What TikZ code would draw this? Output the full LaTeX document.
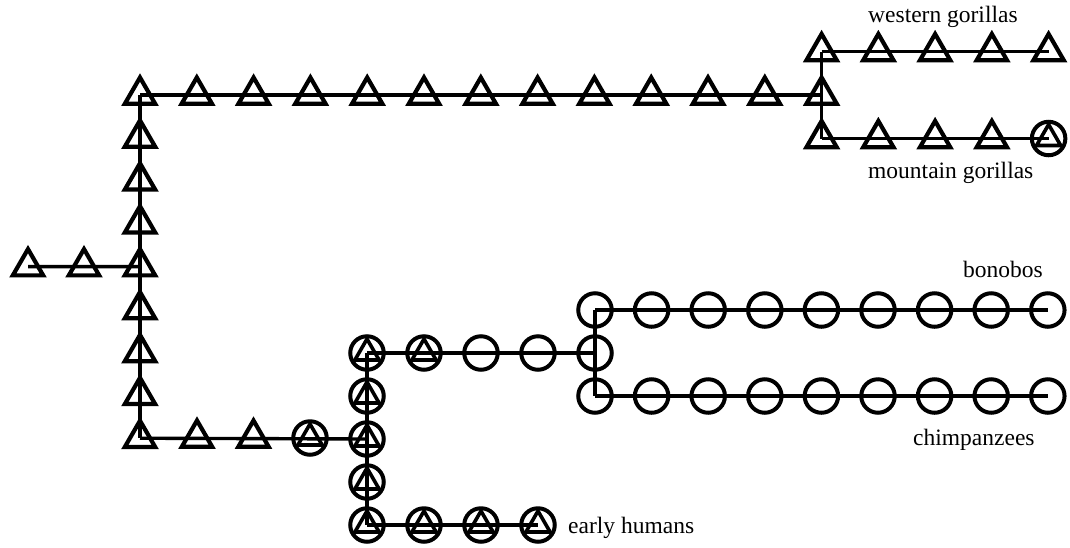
\documentclass[tikz,border=0pt]{standalone}
\usepackage{fontspec}
\setmainfont{Liberation Serif}
\usetikzlibrary{shapes.geometric}
\tikzset{
  conn/.style={line width=3.4pt},
  tri/.style={regular polygon, regular polygon sides=3, minimum size=35pt, inner sep=0pt, outer sep=0pt, draw, line width=4.2pt, line join=miter},
  circ/.style={circle, minimum size=33.5pt, inner sep=0pt, outer sep=0pt, draw, line width=4pt},
  ctri/.style={circ, path picture={\draw[line width=3.6pt, line join=miter]
      ([shift={(90:14pt)}]path picture bounding box.center) --
      ([shift={(210:14pt)}]path picture bounding box.center) --
      ([shift={(330:14pt)}]path picture bounding box.center) -- cycle;}},
  lbl/.style={anchor=base west, inner sep=0pt, font=\fontsize{23.5}{28}\selectfont}
}
\begin{document}
\begin{tikzpicture}[x=1pt,y=-1pt]
\useasboundingbox (0,0) rectangle (1070,547);
% left chain
\node[tri] (l0) at (28,266.6) {};
\node[tri] (l1) at (84,266.6) {};
% column A
\foreach \i in {0,...,8} \node[tri] (a\i) at (140,{95+42.9*\i}) {};
% top row
\foreach \i in {1,...,12} \node[tri] (t\i) at ({140+56.8*\i},95) {};
% gorilla column
\node[tri] (g0) at (821.6,51.5) {};
\node[tri] (g2) at (821.6,138.5) {};
\foreach \j in {1,...,4} \node[tri] (w\j) at ({821.6+56.75*\j},51.5) {};
\foreach \j in {1,...,3} \node[tri] (m\j) at ({821.6+56.75*\j},138.5) {};
\node[ctri] (m4) at (1048.6,138.5) {};
% bottom row from A
\node[tri] (b1) at (197,438) {};
\node[tri] (b2) at (253.5,438) {};
\node[ctri] (b3) at (310,438) {};
% column H
\foreach \i in {0,...,4} \node[ctri] (h\i) at (367,{353+43*\i}) {};
% H top row
\node[ctri] (r1) at (424,353) {};
\node[circ] (r2) at (481,353) {};
\node[circ] (r3) at (538,353) {};
% column P
\node[circ] (p0) at (595,310) {};
\node[circ] (p1) at (595,353) {};
\node[circ] (p2) at (595,396) {};
\foreach \k in {1,...,8} \node[circ] (bo\k) at ({595+56.6*\k},310) {};
\foreach \k in {1,...,8} \node[circ] (ch\k) at ({595+56.6*\k},396) {};
% early humans row
\foreach \k in {1,...,3} \node[ctri] (e\k) at ({367+57*\k},525) {};
% connectors
\draw[conn] (l0.center) -- (l1.center) -- (a4.center);
\draw[conn] (a0.center) -- (a8.center);
\draw[conn] (a0.center) -- (t12.center);
\draw[conn] (g0.center) -- (g2.center);
\draw[conn] (g0.center) -- (w4.center);
\draw[conn] (g2.center) -- (m4.center);
\draw[conn] (a8.center) -- (h2.center);
\draw[conn] (h0.center) -- (h4.center);
\draw[conn] (h0.center) -- (p1.center);
\draw[conn] (p0.center) -- (p2.center);
\draw[conn] (p0.center) -- (bo8.center);
\draw[conn] (p2.center) -- (ch8.center);
\draw[conn] (h4.center) -- (e3.center);
% labels
\node[lbl] (lw) at (868,22) {western gorillas};
\node[lbl] (lm) at (868,178) {mountain gorillas};
\node[lbl] (lb) at (963,277) {bonobos};
\node[lbl] (lc) at (913,445) {chimpanzees};
\node[lbl] (le) at (568,533) {early humans};
\end{tikzpicture}
\end{document}
